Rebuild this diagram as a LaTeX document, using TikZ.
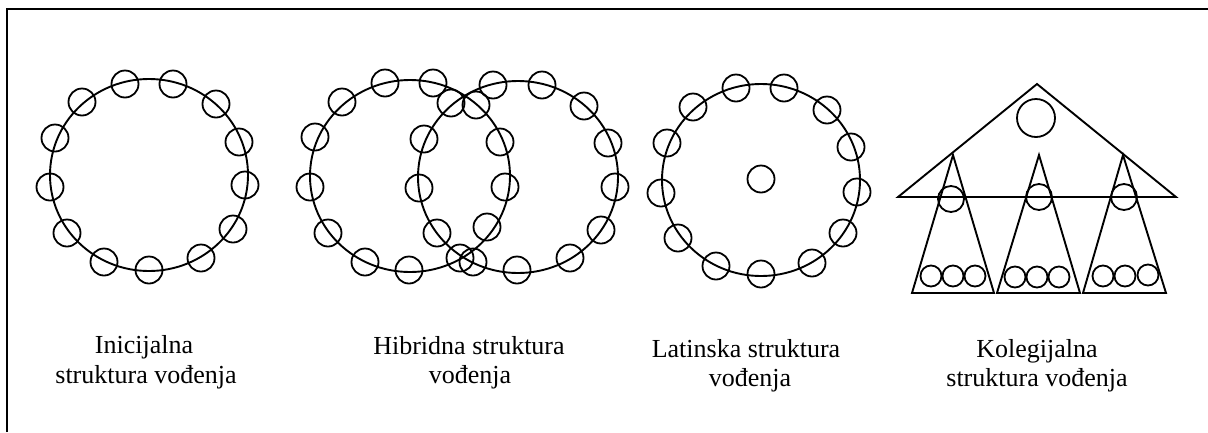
\documentclass[tikz,border=0pt]{standalone}
\usepackage{fontspec}
\setmainfont{Liberation Serif}
\begin{document}
\begin{tikzpicture}[x=1pt,y=-1pt,
  ln/.style={line width=1.9pt},
  sc/.style={circle,draw,line width=1.8pt,minimum size=27pt,inner sep=0pt},
  tc/.style={circle,draw,line width=1.8pt,minimum size=21pt,inner sep=0pt},
  bigc/.style={circle,draw,line width=1.8pt,minimum size=38pt,inner sep=0pt},
  lbl/.style={anchor=base,inner sep=0pt,font=\fontsize{26}{30}\selectfont}]
\useasboundingbox (0,0) rectangle (1208,432);
% frame
\coordinate (fbl) at (7,432);
\coordinate (ftl) at (7,9);
\coordinate (ftr) at (1208,9);
\draw[line width=2.4pt] (fbl) -- (ftl) -- (ftr);

% ---------- Inicijalna ----------
\coordinate (A) at (149,175);
\draw[ln] (A) ellipse [x radius=99, y radius=96];
\foreach \x/\y [count=\i] in {125/84,173/84,216/104,239/142,245/185,233/229,201/258,149/270,104/262,67/233,50/187,55/138,82/102}
  \node[sc] (a\i) at (\x,\y) {};

% ---------- Hibridna ----------
\coordinate (B1) at (410,176);
\coordinate (B2) at (518,177);
\draw[ln] (B1) ellipse [x radius=100, y radius=96];
\draw[ln] (B2) ellipse [x radius=100, y radius=96];
\foreach \x/\y [count=\i] in {385/83,433/83,342/102,315/137,310/187,328/233,365/262,409/270,460/258,487/227,505/187,500/142,476/105}
  \node[sc] (b\i) at (\x,\y) {};
\foreach \x/\y [count=\i] in {493/85,542/85,584/106,608/143,615/187,601/230,570/258,517/270,473/262,437/233,419/188,424/139,451/103}
  \node[sc] (c\i) at (\x,\y) {};

% ---------- Latinska ----------
\coordinate (C) at (761,180);
\draw[ln] (C) ellipse [x radius=99, y radius=96];
\node[sc] (lc) at (761,179) {};
\foreach \x/\y [count=\i] in {736/88,784/88,827/110,851/147,857/192,843/233,812/263,761/274,716/266,678/238,661/193,667/143,693/107}
  \node[sc] (d\i) at (\x,\y) {};

% ---------- Kolegijalna ----------
\coordinate (Ta) at (1037,84);
\coordinate (Tl) at (898,197);
\coordinate (Tr) at (1176,197);
\draw[ln,line join=miter] (Ta) -- (Tl) -- (Tr) -- cycle;
\node[bigc] (kc) at (1036,118) {};
\foreach \ax/\lx/\rx [count=\i] in {953/912/994,1039/997/1080,1123/1083/1166}{
  \coordinate (s\i a) at (\ax,155);
  \coordinate (s\i l) at (\lx,293);
  \coordinate (s\i r) at (\rx,293);
  \draw[ln,line join=miter] (s\i a) -- (s\i l) -- (s\i r) -- cycle;
}
\node[sc,minimum size=26pt] (m1) at (951,199) {};
\node[sc,minimum size=26pt] (m2) at (1039,197) {};
\node[sc,minimum size=26pt] (m3) at (1124,197) {};
\foreach \x/\y [count=\i] in {931/276,953/276,975/276,1015/277,1037/277,1059/277,1103/276,1125/276,1148/275}
  \node[tc] (t\i) at (\x,\y) {};

% ---------- labels ----------
\node[lbl] (l1a) at (144,353) {Inicijalna};
\node[lbl] (l1b) at (146,383) {struktura vođenja};
\node[lbl] (l2a) at (469,354) {Hibridna struktura};
\node[lbl] (l2b) at (470,383) {vođenja};
\node[lbl] (l3a) at (746,357) {Latinska struktura};
\node[lbl] (l3b) at (750,386) {vođenja};
\node[lbl] (l4a) at (1037,357) {Kolegijalna};
\node[lbl] (l4b) at (1037,386) {struktura vođenja};
\end{tikzpicture}
\end{document}
